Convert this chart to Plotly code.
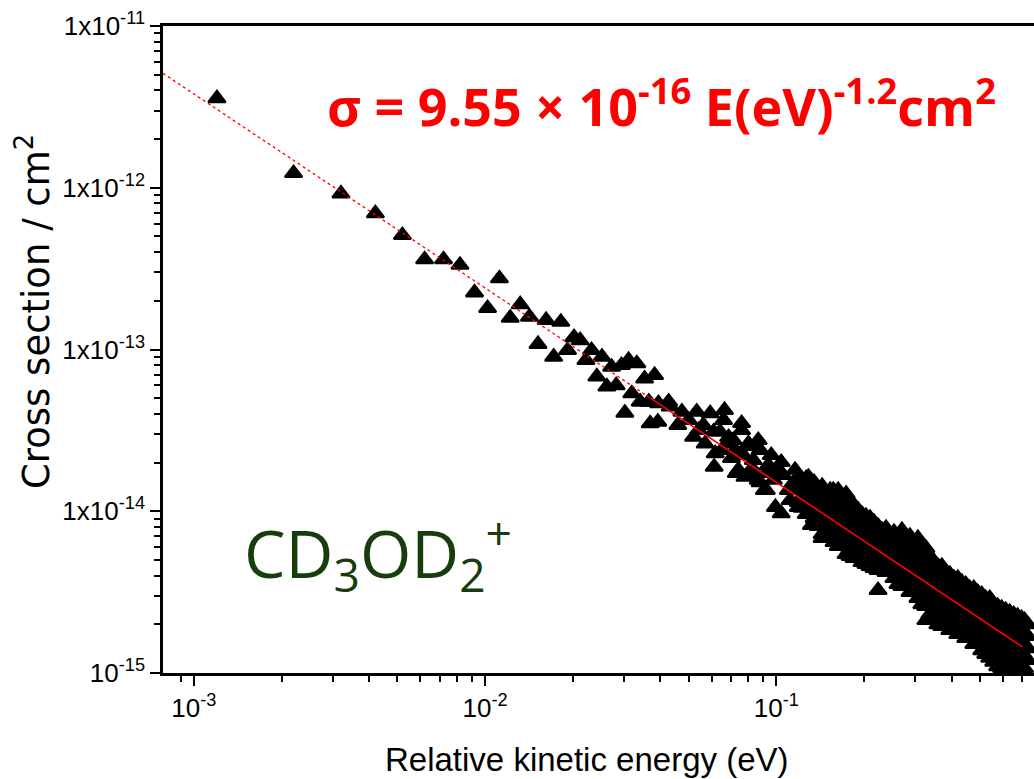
import plotly.graph_objects as go

# ---- data ----
# sparse / mid-range measured points (E in eV, sigma in cm^2)
scatter_E = [
    0.0012, 0.0022, 0.0032, 0.0042, 0.0052, 0.0062, 0.0072, 0.0082, 0.0092, 0.0102,
    0.0112, 0.0122, 0.0132, 0.0142, 0.0152, 0.0162, 0.0172, 0.0182, 0.0192, 0.0202,
    0.0212, 0.0222, 0.0232, 0.0242, 0.0252, 0.0262, 0.0272, 0.0282, 0.0294, 0.0302,
    0.0311, 0.0319, 0.0332, 0.0341, 0.0353, 0.0365, 0.0369, 0.0382, 0.0392, 0.0394,
    0.0427, 0.0432, 0.0459, 0.0474, 0.0520, 0.0533, 0.0570, 0.0593, 0.0609, 0.0612,
    0.0617, 0.0641, 0.0650, 0.0664, 0.0685, 0.0686, 0.0702, 0.0722, 0.0729, 0.0741,
    0.0760, 0.0760, 0.0781, 0.0802, 0.0802, 0.0813, 0.0867, 0.0880, 0.0880, 0.0910,
    0.0924, 0.0924, 0.0961, 0.0993, 0.1016, 0.104, 0.104, 0.114, 0.116, 0.119,
    0.129, 0.132, 0.132, 0.147, 0.147, 0.154, 0.157,
    0.0500, 0.0562, 0.0712, 0.0771, 0.0834, 0.0939, 0.110, 0.0977, 0.0834, 0.0659,
    0.0541, 0.0867, 0.1057, 0.1116,
]
scatter_sigma = [
    3.57e-12, 1.23e-12, 9.2e-13, 6.95e-13, 5.09e-13, 3.6e-13, 3.6e-13, 3.33e-13, 2.25e-13, 1.8e-13,
    2.75e-13, 1.57e-13, 1.9e-13, 1.59e-13, 1.08e-13, 1.52e-13, 9.0e-14, 1.48e-13, 9.9e-14, 1.19e-13,
    1.14e-13, 8.6e-14, 9.9e-14, 6.8e-14, 9.0e-14, 5.9e-14, 7.8e-14, 6.0e-14, 8.0e-14, 4.06e-14,
    8.6e-14, 5.35e-14, 8.2e-14, 4.75e-14, 6.6e-14, 4.75e-14, 3.49e-14, 6.95e-14, 3.57e-14, 4.65e-14,
    4.75e-14, 4.43e-14, 3.41e-14, 4.12e-14, 2.88e-14, 4.12e-14, 2.62e-14, 4.03e-14, 3.1e-14, 1.88e-14,
    2.28e-14, 3.1e-14, 2.39e-14, 4.22e-14, 2.62e-14, 2.87e-14, 2.13e-14, 2.39e-14, 1.72e-14, 1.80e-14,
    3.17e-14, 3.5e-14, 1.63e-14, 2.62e-14, 1.72e-14, 2.53e-14, 1.56e-14, 2.39e-14, 1.51e-14, 1.35e-14,
    1.72e-14, 1.35e-14, 2.22e-14, 1.06e-14, 1.80e-14, 2.01e-14, 9.7e-15, 1.49e-14, 1.80e-14, 1.06e-14,
    1.63e-14, 1.17e-14, 8.2e-15, 1.29e-14, 9.2e-15, 7.3e-15, 1.35e-14,
    3.66e-14, 3.41e-14, 2.75e-14, 2.22e-14, 2.07e-14, 1.93e-14, 1.35e-14, 1.56e-14, 1.80e-14, 3.66e-14,
    3.17e-14, 2.75e-14, 1.67e-14, 1.17e-14,
]

# dense high-energy band: energies and the cross sections seen at each energy
band_E = [
    0.1189, 0.1227, 0.1267, 0.1307, 0.1349, 0.1392, 0.1437, 0.1483, 0.1531, 0.1579,
    0.1631, 0.1683, 0.1737, 0.1792, 0.1850, 0.1909, 0.1970, 0.2033, 0.2099, 0.2166,
    0.2236, 0.2307, 0.2381, 0.2457, 0.2536, 0.2617, 0.2701, 0.2788, 0.2877, 0.2969,
    0.3064, 0.3162, 0.3264, 0.3368, 0.3476, 0.3588, 0.3703, 0.3822, 0.3944, 0.4071,
    0.4201, 0.4335, 0.4474, 0.4618, 0.4766, 0.4918, 0.5076, 0.5239, 0.5406, 0.5580,
    0.5758, 0.5943, 0.6133, 0.6331, 0.6532, 0.6743, 0.6958, 0.7123, 0.7295,
]
band_sigma = [
    [1.60e-14, 1.35e-14, 1.14e-14],
    [1.47e-14, 1.24e-14, 1.05e-14],
    [1.60e-14, 1.35e-14, 1.14e-14, 9.6e-15],
    [1.43e-14, 1.21e-14, 1.02e-14],
    [1.51e-14, 1.28e-14, 1.08e-14, 9.07e-15],
    [1.35e-14, 1.14e-14, 9.6e-15, 8.09e-15],
    [1.43e-14, 1.21e-14, 1.02e-14, 8.56e-15, 7.22e-15, 6.82e-15],
    [1.28e-14, 1.08e-14, 9.07e-15, 7.64e-15],
    [1.35e-14, 1.14e-14, 9.6e-15, 8.09e-15, 6.82e-15],
    [1.24e-14, 1.05e-14, 8.81e-15, 7.43e-15, 6.44e-15],
    [1.35e-14, 1.14e-14, 9.6e-15, 8.09e-15, 6.82e-15, 6.09e-15],
    [1.24e-14, 1.05e-14, 8.81e-15, 7.43e-15, 6.26e-15],
    [1.28e-14, 1.08e-14, 9.07e-15, 7.64e-15, 6.44e-15, 5.43e-15],
    [1.17e-14, 9.87e-15, 8.32e-15, 7.02e-15, 5.92e-15, 5.28e-15],
    [1.08e-14, 9.07e-15, 7.64e-15, 6.44e-15, 5.13e-15],
    [1.02e-14, 8.56e-15, 7.22e-15, 6.09e-15, 5.13e-15],
    [9.6e-15, 8.09e-15, 6.82e-15, 5.75e-15, 4.85e-15],
    [9.33e-15, 7.86e-15, 6.63e-15, 5.59e-15, 4.71e-15],
    [9.07e-15, 7.64e-15, 6.44e-15, 5.43e-15, 4.58e-15],
    [8.56e-15, 7.22e-15, 6.09e-15, 5.13e-15, 4.45e-15],
    [8.09e-15, 6.82e-15, 5.75e-15, 4.85e-15, 4.32e-15, 3.25e-15],
    [7.64e-15, 6.44e-15, 5.43e-15, 4.58e-15],
    [7.86e-15, 6.63e-15, 5.59e-15, 4.71e-15, 4.20e-15],
    [7.22e-15, 6.09e-15, 5.13e-15, 4.32e-15],
    [7.43e-15, 6.26e-15, 5.28e-15, 4.45e-15, 3.86e-15],
    [6.82e-15, 5.75e-15, 4.85e-15, 4.09e-15, 3.54e-15],
    [7.64e-15, 6.44e-15, 5.43e-15, 4.58e-15, 3.86e-15, 3.44e-15],
    [7.02e-15, 5.92e-15, 4.99e-15, 4.20e-15, 3.54e-15],
    [7.02e-15, 5.92e-15, 4.99e-15, 4.20e-15, 3.54e-15, 3.16e-15],
    [6.44e-15, 5.43e-15, 4.58e-15, 3.86e-15, 3.25e-15],
    [6.82e-15, 5.75e-15, 4.85e-15, 4.09e-15, 3.44e-15, 2.90e-15],
    [6.09e-15, 5.13e-15, 4.32e-15, 3.65e-15, 3.07e-15, 2.66e-15],
    [5.92e-15, 4.99e-15, 4.20e-15, 3.54e-15, 2.98e-15, 2.59e-15, 2.12e-15],
    [5.28e-15, 4.45e-15, 3.75e-15, 3.16e-15, 2.66e-15, 2.31e-15],
    [4.85e-15, 4.09e-15, 3.44e-15, 2.90e-15, 2.45e-15, 2.12e-15],
    [4.58e-15, 3.86e-15, 3.25e-15, 2.74e-15, 2.31e-15, 2.00e-15],
    [4.58e-15, 3.86e-15, 3.25e-15, 2.74e-15, 2.31e-15, 1.95e-15],
    [4.20e-15, 3.54e-15, 2.98e-15, 2.52e-15, 2.12e-15],
    [4.09e-15, 3.44e-15, 2.90e-15, 2.45e-15, 2.06e-15, 1.84e-15],
    [3.86e-15, 3.25e-15, 2.74e-15, 2.31e-15, 1.95e-15],
    [3.86e-15, 3.25e-15, 2.74e-15, 2.31e-15, 1.95e-15, 1.74e-15],
    [3.65e-15, 3.07e-15, 2.59e-15, 2.18e-15, 1.84e-15],
    [3.54e-15, 2.98e-15, 2.52e-15, 2.12e-15, 1.79e-15, 1.64e-15],
    [3.34e-15, 2.82e-15, 2.38e-15, 2.00e-15, 1.69e-15],
    [3.34e-15, 2.82e-15, 2.38e-15, 2.00e-15, 1.69e-15, 1.51e-15],
    [3.16e-15, 2.66e-15, 2.25e-15, 1.90e-15, 1.60e-15],
    [3.07e-15, 2.59e-15, 2.18e-15, 1.84e-15, 1.55e-15, 1.38e-15],
    [2.90e-15, 2.45e-15, 2.06e-15, 1.74e-15, 1.47e-15, 1.31e-15],
    [2.90e-15, 2.45e-15, 2.06e-15, 1.74e-15, 1.47e-15, 1.24e-15],
    [2.66e-15, 2.25e-15, 1.90e-15, 1.60e-15, 1.35e-15, 1.17e-15],
    [2.59e-15, 2.18e-15, 1.84e-15, 1.55e-15, 1.31e-15, 1.10e-15],
    [2.52e-15, 2.12e-15, 1.79e-15, 1.51e-15, 1.28e-15, 1.07e-15],
    [2.45e-15, 2.06e-15, 1.74e-15, 1.47e-15, 1.24e-15, 1.04e-15],
    [2.38e-15, 2.00e-15, 1.69e-15, 1.42e-15, 1.20e-15, 1.01e-15],
    [2.31e-15, 1.95e-15, 1.64e-15, 1.38e-15, 1.17e-15, 1.01e-15],
    [2.25e-15, 1.90e-15, 1.60e-15, 1.35e-15, 1.14e-15],
    [2.18e-15, 1.84e-15, 1.55e-15, 1.31e-15, 1.10e-15],
    [2.12e-15, 1.79e-15, 1.51e-15, 1.28e-15, 1.07e-15],
    [2.00e-15, 1.69e-15, 1.42e-15, 1.20e-15],
]

# power-law fit line (dotted extrapolation, then solid over the fitted range)
fit_dotted_E = [7.83e-4, 0.037]
fit_dotted_sigma = [5.1e-12, 5.0e-14]
fit_solid_E = [0.037, 0.70]
fit_solid_sigma = [5.0e-14, 1.45e-15]

# axis ticks
x_tickvals = [1e-3, 1e-2, 1e-1]
x_ticktext = ["10<sup>-3</sup>", "10<sup>-2</sup>", "10<sup>-1</sup>"]
y_tickvals = [1e-15, 1e-14, 1e-13, 1e-12, 1e-11]
y_ticktext = ["10<sup>-15</sup>", "1x10<sup>-14</sup>", "1x10<sup>-13</sup>",
              "1x10<sup>-12</sup>", "1x10<sup>-11</sup>"]
x_minor = [9e-4] + [k * 1e-3 for k in range(2, 10)] + [k * 1e-2 for k in range(2, 10)] \
    + [k * 1e-1 for k in range(2, 8)]
y_minor = [k * 10.0 ** p for p in range(-15, -11) for k in range(2, 10)]

# flatten the band columns
all_E = list(scatter_E)
all_sigma = list(scatter_sigma)
for e, col in zip(band_E, band_sigma):
    for s in col:
        all_E.append(e)
        all_sigma.append(s)

FONT = "Liberation Sans, Arial, sans-serif"

fig = go.Figure()
fig.add_trace(go.Scatter(
    x=all_E, y=all_sigma, mode="markers",
    marker=dict(symbol="triangle-up", size=15, color="black",
                line=dict(color="black", width=2.2)),
    showlegend=False, hoverinfo="skip",
))
fig.add_trace(go.Scatter(
    x=fit_dotted_E, y=fit_dotted_sigma, mode="lines",
    line=dict(color="red", width=1.3, dash="dot"), showlegend=False,
))
fig.add_trace(go.Scatter(
    x=fit_solid_E, y=fit_solid_sigma, mode="lines",
    line=dict(color="red", width=1.6), showlegend=False,
))

axis_common = dict(
    showline=True, linecolor="black", linewidth=2.5,
    ticks="outside", ticklen=10, tickwidth=2, tickcolor="black",
    showgrid=False, zeroline=False,
    tickfont=dict(family=FONT, size=26, color="black"),
)
fig.update_xaxes(type="log", range=[-3.106, -0.115], mirror=True,
                 tickmode="array", tickvals=x_tickvals, ticktext=x_ticktext,
                 minor=dict(tickmode="array", tickvals=x_minor, ticks="outside",
                            ticklen=6, tickwidth=1.5, tickcolor="black", showgrid=False),
                 **axis_common)
fig.update_yaxes(type="log", range=[-15, -11], mirror=False,
                 tickmode="array", tickvals=y_tickvals, ticktext=y_ticktext,
                 minor=dict(tickmode="array", tickvals=y_minor, ticks="outside",
                            ticklen=6, tickwidth=1.5, tickcolor="black", showgrid=False),
                 **axis_common)

fig.update_layout(
    width=1034, height=779,
    margin=dict(l=163, r=0, t=26, b=106),
    paper_bgcolor="white", plot_bgcolor="white",
    font=dict(family=FONT, color="black"),
    annotations=[
        dict(text="Cross section / cm<sup>2</sup>", xref="paper", yref="paper",
             x=-0.148, y=0.558, textangle=-90, showarrow=False,
             font=dict(family="DejaVu Sans, sans-serif", size=37, color="black"),
             xanchor="center", yanchor="middle"),
        dict(text="Relative kinetic energy (eV)", xref="paper", yref="paper",
             x=0.487, y=-0.134, showarrow=False,
             font=dict(family=FONT, size=33, color="black"),
             xanchor="center", yanchor="middle"),
        dict(text="σ = 9.55 × 10<sup>-16</sup> E(eV)<sup>-1.2</sup>cm<sup>2</sup>",
             xref="paper", yref="paper", x=0.572, y=0.881, showarrow=False,
             font=dict(family="Open Sans, Roboto, sans-serif", size=52, color="red",
                       weight="bold"),
             xanchor="center", yanchor="middle"),
        dict(text="CD<sub>3</sub>OD<sub>2</sub><sup>+</sup>",
             xref="paper", yref="paper", x=0.0907, y=0.185, showarrow=False,
             font=dict(family="Open Sans, sans-serif", size=66, color="#173d0c"),
             xanchor="left", yanchor="middle"),
    ],
)

fig.write_html("out.html")
